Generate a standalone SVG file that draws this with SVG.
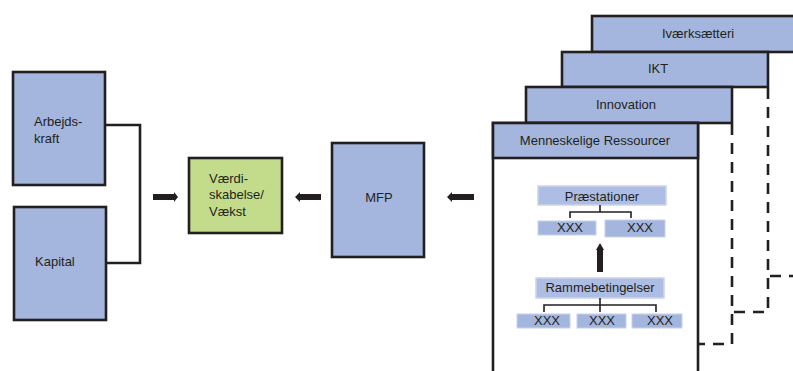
<svg xmlns="http://www.w3.org/2000/svg" width="793" height="371" viewBox="0 0 793 371">
<style>
.box{fill:#a4b6dd;stroke:#231f20;stroke-width:2.6}
.green{fill:#c3dc8b;stroke:#231f20;stroke-width:2.6}
.t{font-family:"Liberation Sans",Arial,sans-serif;font-size:13px;fill:#231f20}
.c{text-anchor:middle}
.ib{fill:#aebde3;stroke:#cad4ee;stroke-width:1.5}
.xb{fill:#a4b6dd;stroke:#c6d1ec;stroke-width:1}
.line{fill:none;stroke:#231f20;stroke-width:2.6}
.thin{fill:none;stroke:#231f20;stroke-width:1.6}
.dash{fill:none;stroke:#231f20;stroke-width:2.6;stroke-dasharray:11 8}
.arrow{fill:#231f20}
</style>
<rect width="793" height="371" fill="#ffffff"/>
<g id="connectors">
<polyline class="line" points="105,125 140,125 140,263 106,263"/>
<polygon class="arrow" points="153,194 174,194 174,192 178,197 174,202 174,200 153,200"/>
<polygon class="arrow" points="321,194 300,194 300,192 295,197 300,202 300,200 321,200"/>
<polygon class="arrow" points="474,194 452,194 452,192 447,197 452,202 452,200 474,200"/>
<polyline class="dash" points="732,124 732,344 698,344"/>
<polyline class="dash" points="768,88 768,312 732,312"/>
<polyline class="dash" points="800,276 768,276"/>
</g>
<g id="arbejdskraft">
<rect class="box" x="13" y="72" width="92" height="113"/>
<text class="t" x="34" y="126">Arbejds-</text>
<text class="t" x="34" y="143">kraft</text>
</g>
<g id="kapital">
<rect class="box" x="14" y="207" width="92" height="113"/>
<text class="t" x="35" y="266">Kapital</text>
</g>
<g id="vaerdiskabelse">
<rect class="green" x="189" y="158" width="93" height="75"/>
<text class="t" x="209" y="183">Værdi-</text>
<text class="t" x="209" y="199">skabelse/</text>
<text class="t" x="209" y="216">Vækst</text>
</g>
<g id="mfp">
<rect class="box" x="332" y="143" width="92" height="114"/>
<text class="t c" x="379" y="202">MFP</text>
</g>
<g id="ivaerksaetteri">
<rect class="box" x="592" y="16" width="220" height="36"/>
<text class="t c" x="698" y="38">Iværksætteri</text>
</g>
<g id="ikt">
<rect class="box" x="562" y="52" width="206" height="35"/>
<text class="t c" x="658" y="73">IKT</text>
</g>
<g id="innovation">
<rect class="box" x="526" y="87" width="206" height="36"/>
<text class="t c" x="626" y="109">Innovation</text>
</g>
<g id="menneskelige">
<rect class="box" x="493" y="123" width="205" height="270" style="fill:#ffffff"/>
<rect class="box" x="493" y="123" width="205" height="35"/>
<text class="t c" x="595" y="145">Menneskelige Ressourcer</text>
</g>
<g id="praestationer">
<rect class="ib" x="538" y="186" width="128" height="19"/>
<text class="t c" x="602" y="201">Præstationer</text>
<polyline class="thin" points="570,218 570,212 631,212 631,218"/>
<line class="thin" x1="600" y1="205" x2="600" y2="212"/>
<rect class="xb" x="538" y="221" width="58" height="14"/>
<text class="t c" x="570" y="232">XXX</text>
<rect class="xb" x="605" y="220" width="60" height="17"/>
<text class="t c" x="640" y="232">XXX</text>
</g>
<g id="up-arrow">
<polygon class="arrow" points="597,272 597,250 596,250 600,243 604,250 603,250 603,272"/>
</g>
<g id="rammebetingelser">
<rect class="ib" x="536" y="278" width="128" height="20"/>
<text class="t c" x="600" y="292">Rammebetingelser</text>
<polyline class="thin" points="544,312 544,305 656,305 656,312"/>
<line class="thin" x1="600" y1="298" x2="600" y2="312"/>
<rect class="xb" x="517" y="314" width="53" height="14"/>
<text class="t c" x="547" y="325">XXX</text>
<rect class="xb" x="577" y="314" width="49" height="14"/>
<text class="t c" x="602" y="325">XXX</text>
<rect class="xb" x="632" y="314" width="50" height="14"/>
<text class="t c" x="660" y="325">XXX</text>
</g>
</svg>
